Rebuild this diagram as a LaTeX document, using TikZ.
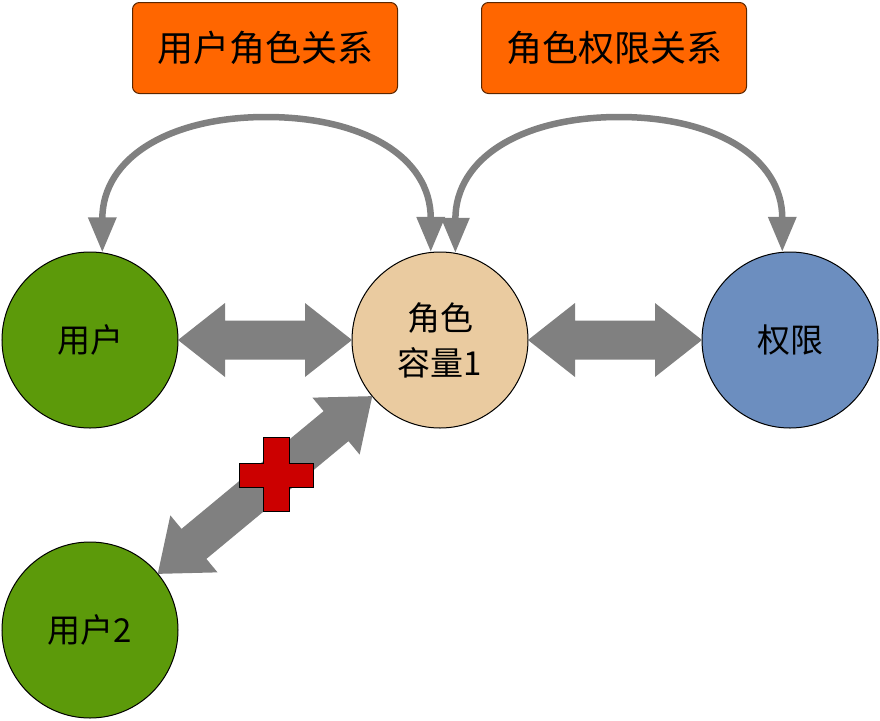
\documentclass[tikz,border=0pt]{standalone}
\usepackage{fontspec}
\setmainfont{Noto Sans CJK SC}
\usetikzlibrary{calc,arrows.meta}
\definecolor{ugreen}{HTML}{5C9A0A}
\definecolor{rolefill}{HTML}{EACBA0}
\definecolor{permblue}{HTML}{6C8EBF}
\definecolor{orangebox}{HTML}{FF6600}
\definecolor{boxborder}{HTML}{5A2600}
\definecolor{arrowgray}{HTML}{808080}
\definecolor{crossred}{HTML}{CC0000}
\newcommand{\fatarrow}[2]{%
  \coordinate (fa1) at ($(#1.center)!88pt!(#2.center)$);
  \coordinate (fa2) at ($(#2.center)!88pt!(#1.center)$);
  \fill[arrowgray] (fa1)
    -- ($(fa1)!47pt!(fa2)!37pt!90:(fa2)$)
    -- ($(fa1)!47pt!(fa2)!19.5pt!90:(fa2)$)
    -- ($(fa2)!47pt!(fa1)!19.5pt!-90:(fa1)$)
    -- ($(fa2)!47pt!(fa1)!37pt!-90:(fa1)$)
    -- (fa2)
    -- ($(fa2)!47pt!(fa1)!37pt!90:(fa1)$)
    -- ($(fa2)!47pt!(fa1)!19.5pt!90:(fa1)$)
    -- ($(fa1)!47pt!(fa2)!19.5pt!-90:(fa2)$)
    -- ($(fa1)!47pt!(fa2)!37pt!-90:(fa2)$)
    -- cycle;}
\begin{document}
\begin{tikzpicture}[x=1pt,y=-1pt,
  circ/.style={circle,draw=black,line width=1pt,minimum size=176pt,inner sep=0pt,
    font=\fontsize{33}{45}\selectfont,align=center,text=black},
  relbox/.style={draw=boxborder,line width=1pt,fill=orangebox,rounded corners=7pt,
    minimum width=265pt,minimum height=91pt,inner sep=0pt,
    font=\fontsize{36}{40}\selectfont,text=black},
  curvearrow/.style={draw=arrowgray,line width=6.5pt,
    {Triangle[width=27pt,length=35pt]}-{Triangle[width=27pt,length=35pt]}},
  crossmark/.style={fill=crossred,draw=black,line width=1pt}
  ]
\useasboundingbox (0,0) rectangle (880,720);

\node[relbox] (rel1) at (265,48) {用户角色关系};
\node[relbox] (rel2) at (614,48) {角色权限关系};

\node[circ,fill=ugreen] (user) at (90,340) {用户};
\node[circ,fill=rolefill] (role) at (440,340) {角色\\容量1};
\node[circ,fill=permblue] (perm) at (790,340) {权限};
\node[circ,fill=ugreen] (user2) at (90,630) {用户2};

\coordinate (top1) at (266,117);
\coordinate (top2) at (619,117);
\draw[curvearrow] (user.82) to[out=90,in=180,looseness=1.15] (top1)
  to[out=0,in=90,looseness=1.15] (role.96.5);
\draw[curvearrow] (role.80) to[out=90,in=180,looseness=1.15] (top2)
  to[out=0,in=90,looseness=1.15] (perm.95);

\fatarrow{user}{role}
\fatarrow{role}{perm}
\fatarrow{role}{user2}

\draw[crossmark] (263,437) -- (289,437) -- (289,463) -- (313,463) -- (313,487)
  -- (289,487) -- (289,511) -- (263,511) -- (263,487) -- (239,487) -- (239,463)
  -- (263,463) -- cycle;
\end{tikzpicture}
\end{document}
